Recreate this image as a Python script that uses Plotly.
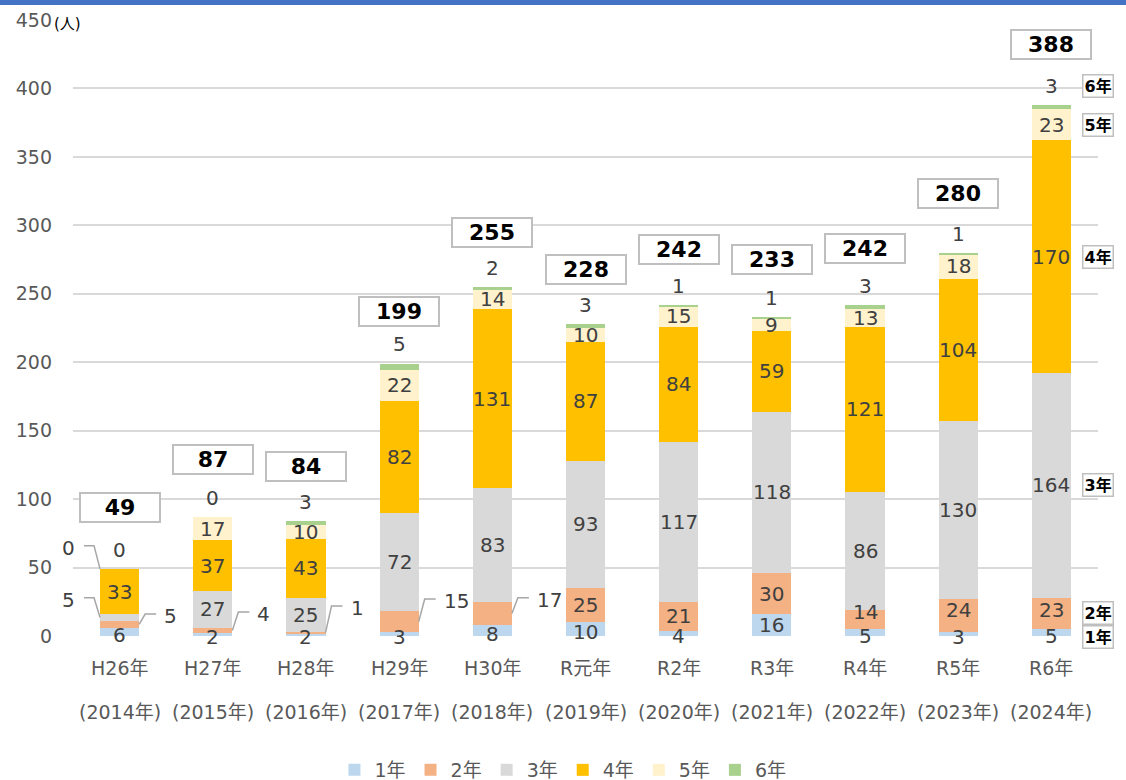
import plotly.graph_objects as go

# 学年別の人数
cat_top = ["H26年", "H27年", "H28年", "H29年", "H30年", "R元年", "R2年", "R3年", "R4年", "R5年", "R6年"]
cat_bottom = ["(2014年)", "(2015年)", "(2016年)", "(2017年)", "(2018年)", "(2019年)",
              "(2020年)", "(2021年)", "(2022年)", "(2023年)", "(2024年)"]
grades = ["1年", "2年", "3年", "4年", "5年", "6年"]

g1 = [6, 2, 2, 3, 8, 10, 4, 16, 5, 3, 5]
g2 = [5, 4, 1, 15, 17, 25, 21, 30, 14, 24, 23]
g3 = [5, 27, 25, 72, 83, 93, 117, 118, 86, 130, 164]
g4 = [33, 37, 43, 82, 131, 87, 84, 59, 121, 104, 170]
g5 = [0, 17, 10, 22, 14, 10, 15, 9, 13, 18, 23]
g6 = [0, 0, 3, 5, 2, 3, 1, 1, 3, 1, 3]
totals = [49, 87, 84, 199, 255, 228, 242, 233, 242, 280, 388]

colors = ["#BDD7EE", "#F4B183", "#D9D9D9", "#FFC000", "#FFF2CC", "#A9D18E"]
series = [g1, g2, g3, g4, g5, g6]

W, H = 1126, 780
ML, MR, MT, MB = 73, 28, 20, 144
pw, ph = W - ML - MR, H - MT - MB
n = len(cat_top)
ux = n / pw          # one pixel in x data units
bw = 0.42

font = "DejaVu Sans, Noto Sans CJK JP, sans-serif"
txt_col = "#404040"
lead_col = "#A6A6A6"

# style tweaks (label placement)
box_lift = [45, 42, 40, 38, 40, 40, 40, 42, 41, 43, 44]
lead_y = [16, 17.5, 22, 27, 28]
g2_nudge = [0, 0, 0, 0, 0, 0, 0, 0, 8, 5, 3]

xs = list(range(n))
fig = go.Figure()
for name, vals, c in zip(grades, series, colors):
    fig.add_trace(go.Bar(x=xs, y=vals, name=name, marker_color=c,
                         marker_line_width=0, width=bw, hoverinfo="skip"))

ann = []
shapes = []


def lab(x, y, text, **kw):
    d = dict(x=x, y=y, xref="x", yref="y", text=str(text), showarrow=False,
             font=dict(family=font, size=20, color=txt_col))
    d.update(kw)
    ann.append(d)


for i in range(n):
    base = 0
    for k, vals in enumerate(series):
        v = vals[i]
        mid = base + v / 2
        if k == 0:
            if v >= 12:
                lab(i, mid, v)
            else:
                lab(i, max(mid - 1.5, 0), v, yshift=-1)
        elif k == 1 and i <= 4:
            # leader to the right
            x0 = i + bw / 2
            x1 = x0 + 6 * ux
            x2 = x1 + 11 * ux
            y1 = lead_y[i]
            shapes.append(dict(type="path", xref="x", yref="y",
                               path=f"M {x0},{mid} L {x1},{y1} L {x2},{y1}",
                               line=dict(color=lead_col, width=1.5)))
            lab(x2 + 6 * ux, y1, v, xanchor="left", yshift=-2)
        elif i == 0 and k in (2, 4):
            # leaders to the left for the first year
            y1 = 28 if k == 2 else 66
            x0 = i - bw / 2
            x1 = x0 - 6 * ux
            x2 = x1 - 10 * ux
            shapes.append(dict(type="path", xref="x", yref="y",
                               path=f"M {x0},{mid} L {x1},{y1} L {x2},{y1}",
                               line=dict(color=lead_col, width=1.5)))
            lab(x2 - 7 * ux, y1, v, xanchor="right", yshift=-2)
        elif k == 5:
            lab(i, totals[i] + 14, v)
        else:
            lab(i, mid, v, yshift=g2_nudge[i] if k == 1 else 0)
        base += v

    # total boxes
    ann.append(dict(x=i, y=totals[i] + box_lift[i], xref="x", yref="y",
                    text=f"<b>{totals[i]}</b>", showarrow=False,
                    font=dict(family=font, size=22, color="#000000"),
                    bgcolor="#FFFFFF", bordercolor="#BFBFBF", borderwidth=2,
                    borderpad=2, width=74, height=23))

    # category labels (two lines, wide spacing)
    ann.append(dict(x=i, y=-(668 - (H - MB)) / ph, xref="x", yref="paper",
                    text=cat_top[i], showarrow=False, yanchor="middle",
                    font=dict(family=font, size=19, color="#595959")))
    ann.append(dict(x=i, y=-(712 - (H - MB)) / ph, xref="x", yref="paper",
                    text=cat_bottom[i], showarrow=False, yanchor="middle",
                    font=dict(family=font, size=19, color="#595959")))

# grade tags on the right of the last bar
last = n - 1
base = 0
tag_y = []
for k, vals in enumerate(series):
    v = vals[last]
    if k == 0:
        tag_y.append(0)
    elif k == 5:
        tag_y.append(totals[last] + 14)
    else:
        tag_y.append(base + v / 2)
    base += v
for k, (name, y) in enumerate(zip(grades, tag_y)):
    ann.append(dict(x=1, y=y, xref="paper", yref="y", text=f"<b>{name}</b>",
                    showarrow=False, xanchor="center", yshift=-1 if k == 0 else 0,
                    font=dict(family=font, size=16, color="#000000"),
                    bgcolor="#FFFFFF", bordercolor="#BFBFBF", borderwidth=1.5,
                    borderpad=1))

# unit
ann.append(dict(x=-6 / pw, y=(H - MB - 24) / ph, xref="paper", yref="paper",
                text="(人)", showarrow=False, xanchor="center", yanchor="middle",
                font=dict(family=font, size=15, color="#000000")))

# blue stripe on top
shapes.append(dict(type="rect", xref="paper", yref="paper",
                   x0=-ML / pw, x1=1 + MR / pw,
                   y0=(H - MB - 5) / ph, y1=(H - MB) / ph,
                   fillcolor="#4472C4", line_width=0, layer="above"))

fig.update_layout(
    width=W, height=H,
    margin=dict(l=ML, r=MR, t=MT, b=MB, autoexpand=False),
    barmode="stack",
    plot_bgcolor="#FFFFFF", paper_bgcolor="#FFFFFF",
    annotations=ann, shapes=shapes,
    showlegend=True,
    legend=dict(orientation="h", x=0.478, xanchor="center",
                y=-(770 - (H - MB)) / ph, yanchor="middle",
                font=dict(family=font, size=19, color="#595959"),
                itemwidth=30, traceorder="normal"),
    xaxis=dict(range=[-0.5, n - 0.5], showticklabels=False, showgrid=False,
               zeroline=False, showline=False, fixedrange=True),
    yaxis=dict(range=[0, 450], dtick=50, showgrid=True, gridcolor="#D9D9D9",
               gridwidth=1.5, zeroline=False, showline=False,
               tickfont=dict(family=font, size=19, color="#595959"),
               ticklabelstandoff=20),
)

fig.write_html("out.html", config={"displayModeBar": False},
               post_script="document.body.style.margin='0px';")
